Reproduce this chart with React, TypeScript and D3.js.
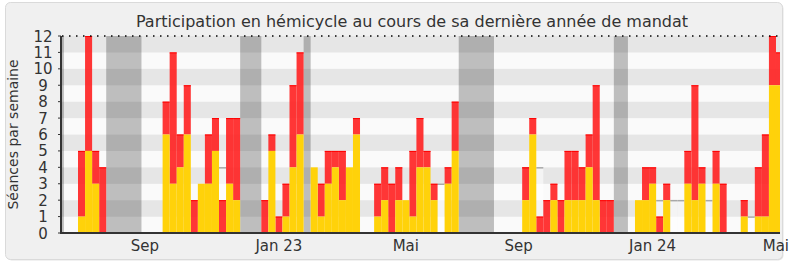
import React from 'react';
import * as d3 from 'd3';

// weekly totals (red top) and yellow part, week index = array index
const totals = [
  5, 12, 5, 4, 0, 0, 0, 0, 0, 0,
  0, 0, 8, 11, 6, 9, 2, 3, 6, 7,
  2, 7, 7, 0, 0, 0, 2, 6, 1, 3,
  9, 11, 0, 4, 3, 5, 5, 5, 4, 7,
  0, 0, 3, 4, 3, 4, 2, 5, 7, 5,
  3, 0, 4, 8, 0, 0, 0, 0, 0, 0,
  0, 0, 0, 4, 7, 1, 2, 3, 2, 5,
  5, 4, 6, 9, 2, 2, 0, 0, 0, 2,
  4, 4, 1, 3, 0, 0, 5, 9, 4, 0,
  5, 3, 0, 0, 2, 0, 4, 6, 12, 11,
];
const yellow = [
  1, 5, 3, 0, 0, 0, 0, 0, 0, 0,
  0, 0, 6, 3, 4, 6, 0, 3, 3, 5,
  0, 3, 2, 0, 0, 0, 0, 5, 0, 1,
  4, 6, 0, 4, 1, 3, 4, 2, 4, 6,
  0, 0, 1, 2, 0, 2, 2, 1, 4, 4,
  2, 0, 3, 5, 0, 0, 0, 0, 0, 0,
  0, 0, 0, 2, 6, 0, 0, 2, 0, 2,
  2, 2, 4, 2, 0, 0, 0, 0, 0, 2,
  2, 3, 0, 2, 0, 0, 3, 2, 3, 0,
  3, 0, 0, 0, 1, 0, 1, 1, 9, 9,
];
// median line where visible (week index, value)
const medianWeeks = [20, 51, 63, 65, 82, 84, 85, 89, 95];
const medianValues = [4, 3, 4, 4, 2, 2, 2, 2, 1];
// holiday bands [start week, end week)
const bandStarts = [-3, 4, 23, 32, 54, 76];
const bandEnds = [-2, 9, 26, 33, 59, 78];
// x tick labels at week index
const tickWeeks = [9, 28, 46, 62, 81, 99];
const tickLabels = ['Sep', 'Jan 23', 'Mai', 'Sep', 'Jan 24', 'Mai'];
const yTicks = [0, 1, 2, 3, 4, 5, 6, 7, 8, 9, 10, 11, 12];

const W = 790;
const H = 267;
const L = 62, R = 780, T = 36, B = 233;
const FONT = '"DejaVu Sans", Verdana, sans-serif';

export default function App() {
  const x = d3.scaleLinear().domain([-2.27, 99.57]).range([L, R]);
  const y = d3.scaleLinear().domain([0, 12]).range([B, T]);
  const bw = x(1) - x(0);

  return (
    <svg width={W} height={H} style={{ position: 'absolute', left: 0, top: 0 }} fontFamily={FONT}>
      <defs>
        <clipPath id="plot">
          <rect x={L} y={T - 2} width={R - L} height={B - T + 2} />
        </clipPath>
      </defs>
      <rect x={0} y={0} width={W} height={H} fill="#ffffff" />
      <rect x={6.5} y={3.5} width={777} height={257} rx={5} fill="#e4e4e4" />
      <rect x={5.5} y={2.5} width={777} height={257} rx={5} fill="#f0f0f0" stroke="#dadada" />
      <text x={412} y={27} textAnchor="middle" fontSize={16} fill="#333">
        Participation en hémicycle au cours de sa dernière année de mandat
      </text>

      <g clipPath="url(#plot)">
        {yTicks.slice(0, -1).map((v) => (
          <rect key={'s' + v} x={L} y={y(v + 1)} width={R - L} height={y(v) - y(v + 1)}
            fill={v % 2 === 1 ? '#e6e6e6' : '#fafafa'} />
        ))}
        {bandStarts.map((s, k) => (
          <rect key={'b' + k} x={x(s)} y={T} width={x(bandEnds[k]) - x(s)} height={B - T}
            fill="#000" fillOpacity={0.24} />
        ))}
        {medianWeeks.map((w, k) => (
          <g key={'m' + k}>
            <rect x={x(w)} y={y(medianValues[k])} width={bw} height={B - y(medianValues[k])}
              fill="#fff" fillOpacity={0.55} />
            <line x1={x(w)} x2={x(w) + bw} y1={y(medianValues[k]) + 0.5} y2={y(medianValues[k]) + 0.5}
              stroke="#a8a8a8" strokeWidth={1.5} />
          </g>
        ))}
        {totals.map((t, i) => (
          t > yellow[i] ? (
            <g key={'r' + i}>
              <rect x={x(i)} y={y(t)} width={bw} height={y(yellow[i]) - y(t)}
                fill="#ff2020" fillOpacity={0.9} />
              <line x1={x(i)} x2={x(i) + bw} y1={y(t) + 0.5} y2={y(t) + 0.5} stroke="#ff0000" />
            </g>
          ) : null
        ))}
        {yellow.map((v, i) => (
          v > 0 ? (
            <rect key={'y' + i} x={x(i)} y={y(v)} width={bw} height={B - y(v)} fill="#ffd20a" />
          ) : null
        ))}
      </g>

      <line x1={L} x2={R} y1={T} y2={T} stroke="#000" strokeWidth={1.5} strokeDasharray="1.5 5.5" />
      <line x1={L - 1} x2={L - 1} y1={T} y2={B + 1} stroke="#333" strokeWidth={2} />
      <line x1={L - 2} x2={R} y1={B} y2={B} stroke="#333" strokeWidth={2} />
      {yTicks.map((v) => (
        <g key={'yt' + v}>
          <line x1={L - 4} x2={L - 1} y1={y(v)} y2={y(v)} stroke="#333" />
          <text x={43} y={y(v) + 5.5} textAnchor="middle" fontSize={15} fill="#333">{v}</text>
        </g>
      ))}
      {tickWeeks.map((w, k) => {
        const last = k === tickWeeks.length - 1;
        return (
          <text key={'xt' + k} x={last ? W - 1 : x(w + 0.5)} y={251}
            textAnchor={last ? 'end' : 'middle'} fontSize={15} fill="#333">
            {tickLabels[k]}
          </text>
        );
      })}
      <text transform={`translate(18,${(T + B) / 2}) rotate(-90)`} textAnchor="middle" fontSize={14} fill="#333">
        Séances par semaine
      </text>
    </svg>
  );
}
